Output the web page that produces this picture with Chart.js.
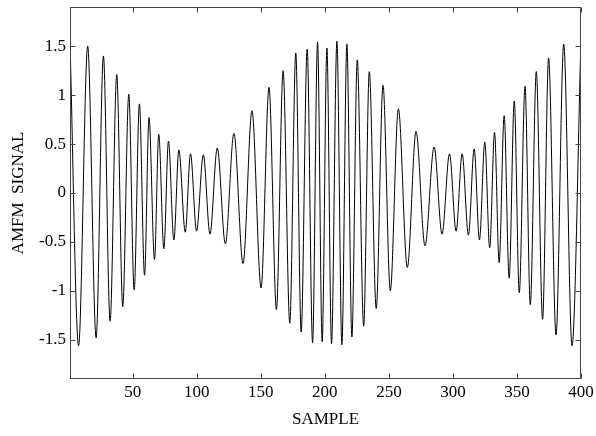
<!DOCTYPE html>
<html>
<head>
<meta charset="utf-8">
<title>AMFM signal</title>
<script src="https://cdn.jsdelivr.net/npm/chart.js@4/dist/chart.umd.min.js"></script>
<style>
  html, body { margin: 0; padding: 0; background: #fff; }
  canvas { display: block; }
</style>
</head>
<body>
<canvas id="chart" width="596" height="436"></canvas>
<script>
// Peaks and troughs of the signal (sample index, value)
const extremaSample = [
  1, 7.7, 14.8, 21.4, 27.1, 32.3, 37.5, 42.2, 46.9, 51.1,
  55.2, 59.2, 62.7, 67.0, 70.3, 74.3, 77.9, 82.1, 86.0, 91.0,
  95.1, 99.8, 105.1, 110.3, 116.0, 122.3, 129.0, 136.1, 143.1, 150.2,
  156.4, 162.2, 167.4, 172.6, 177.3, 181.5, 186.2, 190.4, 194.3, 197.9,
  201.6, 205.2, 209.4, 213.3, 217.2, 221.1, 225.3, 230.3, 234.7, 240.1,
  245.4, 251.1, 257.4, 264.4, 271.2, 278.2, 285.3, 291.5, 297.3, 302.5,
  307.2, 312.1, 316.6, 320.7, 324.9, 328.7, 332.5, 336.1, 340.0, 343.9,
  347.9, 351.8, 356.3, 360.4, 365.1, 370.0, 374.7, 380.5, 386.5, 393.0,
  400
]
const extremaValue = [
  1.55, -1.56, 1.50, -1.48, 1.40, -1.31, 1.21, -1.16, 1.01, -0.99,
  0.91, -0.84, 0.77, -0.68, 0.60, -0.57, 0.53, -0.48, 0.44, -0.40,
  0.40, -0.39, 0.39, -0.42, 0.46, -0.52, 0.61, -0.72, 0.84, -0.97,
  1.08, -1.19, 1.25, -1.33, 1.43, -1.42, 1.47, -1.53, 1.54, -1.52,
  1.48, -1.54, 1.55, -1.55, 1.52, -1.47, 1.36, -1.36, 1.24, -1.18,
  1.10, -1.00, 0.86, -0.76, 0.63, -0.54, 0.47, -0.42, 0.40, -0.39,
  0.40, -0.43, 0.45, -0.48, 0.52, -0.56, 0.62, -0.71, 0.79, -0.87,
  0.94, -1.02, 1.09, -1.14, 1.24, -1.29, 1.38, -1.45, 1.52, -1.56,
  1.58
]

const xTicks = [50, 100, 150, 200, 250, 300, 350, 400]
const yTicks = [-1.5, -1, -0.5, 0, 0.5, 1, 1.5]

const serif = "'Liberation Serif', 'Times New Roman', serif"

// white page, then box with inward ticks on all four sides
const framePlugin = {
  id: 'frame',
  beforeDraw(chart) {
    const ctx = chart.ctx
    ctx.save()
    ctx.fillStyle = '#fff'
    ctx.fillRect(0, 0, chart.width, chart.height)
    ctx.restore()
  },
  afterDraw(chart) {
    const { ctx, chartArea: a, scales } = chart
    const L = Math.round(a.left) + 0.5
    const R = Math.round(a.right) - 0.5
    const T = Math.round(a.top) + 0.5
    const B = Math.round(a.bottom) - 0.5
    const len = 5
    ctx.save()
    ctx.strokeStyle = '#444'
    ctx.lineWidth = 1
    ctx.strokeRect(L, T, R - L, B - T)
    ctx.beginPath()
    xTicks.forEach(v => {
      const px = Math.round(scales.x.getPixelForValue(v)) + 0.5
      ctx.moveTo(px, B); ctx.lineTo(px, B - len)
      ctx.moveTo(px, T); ctx.lineTo(px, T + len)
    })
    yTicks.forEach(v => {
      const py = Math.round(scales.y.getPixelForValue(v)) + 0.5
      ctx.moveTo(L, py); ctx.lineTo(L + len, py)
      ctx.moveTo(R, py); ctx.lineTo(R - len, py)
    })
    ctx.stroke()
    ctx.restore()
  }
}

new Chart(document.getElementById('chart'), {
  type: 'line',
  data: {
    datasets: [{
      data: extremaSample.map((x, i) => ({ x: x, y: extremaValue[i] })),
      borderColor: '#000',
      borderWidth: 1,
      pointRadius: 0,
      fill: false,
      cubicInterpolationMode: 'monotone'
    }]
  },
  options: {
    responsive: false,
    animation: false,
    events: [],
    layout: { padding: { top: 7, right: 15, left: 0, bottom: 0 } },
    plugins: {
      legend: { display: false },
      tooltip: { enabled: false }
    },
    scales: {
      x: {
        type: 'linear',
        min: 1,
        max: 400,
        afterBuildTicks: s => { s.ticks = xTicks.map(v => ({ value: v })) },
        afterFit: s => { s.height = 57; s.paddingLeft = 0; s.paddingRight = 0 },
        grid: { display: false, drawTicks: false },
        border: { display: false },
        ticks: {
          padding: 3,
          maxRotation: 0,
          color: '#000',
          callback: v => String(v),
          font: { family: serif, size: 17 }
        },
        title: {
          display: true,
          text: 'SAMPLE',
          color: '#000',
          padding: { top: 4, bottom: 6 },
          font: { family: serif, size: 17 }
        }
      },
      y: {
        min: -1.9,
        max: 1.9,
        afterBuildTicks: s => { s.ticks = yTicks.map(v => ({ value: v })) },
        afterFit: s => { s.width = 70; s.paddingTop = 0; s.paddingBottom = 0 },
        grid: { display: false, drawTicks: false },
        border: { display: false },
        ticks: {
          padding: 4,
          color: '#000',
          callback: v => String(v),
          font: { family: serif, size: 17 }
        },
        title: {
          display: true,
          text: 'AMFM  SIGNAL',
          color: '#000',
          padding: { top: 8, bottom: 4 },
          font: { family: serif, size: 17 }
        }
      }
    }
  },
  plugins: [framePlugin]
})
</script>
</body>
</html>
